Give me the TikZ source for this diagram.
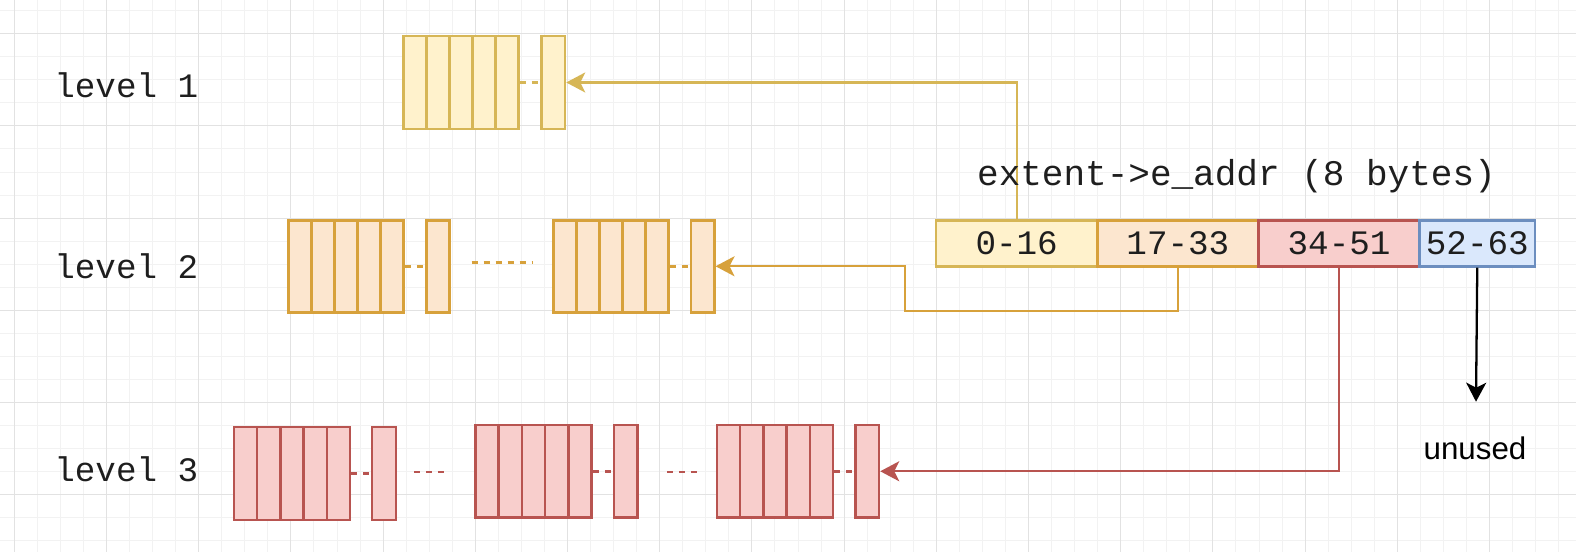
\documentclass[tikz,border=0pt]{standalone}
\usepackage{fontspec}
\setmainfont{Liberation Serif}
\newfontfamily\monof{Liberation Mono}
\newfontfamily\sansf{Liberation Sans}
\usetikzlibrary{arrows.meta}
\definecolor{yfill}{HTML}{FFF2CC}
\definecolor{ystroke}{HTML}{D6B656}
\definecolor{ofill}{HTML}{FCE6CF}
\definecolor{ostroke}{HTML}{D7A13B}
\definecolor{rfill}{HTML}{F8CECC}
\definecolor{rstroke}{HTML}{B85450}
\definecolor{bfill}{HTML}{DAE8FC}
\definecolor{bstroke}{HTML}{6C8EBF}
\definecolor{gridminor}{HTML}{F2F2F2}
\definecolor{gridmajor}{HTML}{E2E2E2}
\definecolor{txt}{HTML}{1E1E1E}
\newlength\pxl
\setlength\pxl{0.02cm}
\newcommand\cellrow[6]{%
  \foreach \i in {0,...,4} {%
    \node[#6, minimum width=#4\pxl, minimum height=#5\pxl, anchor=north west] (#1\i) at ({#2+#4*\i}, #3) {};
  }%
}
\tikzset{
  ycell/.style={draw=ystroke, fill=yfill, line width=1.45pt, inner sep=0pt, rectangle},
  ocell/.style={draw=ostroke, fill=ofill, line width=1.45pt, inner sep=0pt, rectangle},
  rcell/.style={draw=rstroke, fill=rfill, line width=1.45pt, inner sep=0pt, rectangle},
  addrbox/.style={line width=1.45pt, inner sep=0pt, rectangle, minimum height=46\pxl, anchor=north west, font=\monof\fontsize{19.5}{22}\selectfont, text=txt},
  dashlink/.style={line width=1.45pt, dash pattern=on 0.12cm off 0.12cm},
  link/.style={line width=1.3pt, -{Stealth[length=0.38cm, width=0.4cm, inset=0.1cm]}},
  lvl/.style={anchor=base west, font=\monof\fontsize{19.5}{22}\selectfont, text=txt, inner sep=0pt},
  minorline/.style={draw=gridminor, line width=0.55pt},
  majorline/.style={draw=gridmajor, line width=0.6pt},
}
\begin{document}
\begin{tikzpicture}[x=0.02cm, y=-0.02cm]
\fill[white] (0,0) rectangle (1576,552);
\useasboundingbox (0,0) rectangle (1576,552);
% grid
\foreach \k in {0,...,68} {
  \pgfmathsetmacro\xx{14.3+23.05*\k}
  \draw[minorline] (\xx,0) -- (\xx,552);
}
\foreach \k in {0,...,23} {
  \pgfmathsetmacro\yy{10.65+23.05*\k}
  \draw[minorline] (0,\yy) -- (1576,\yy);
}
\foreach \k in {0,...,17} {
  \pgfmathsetmacro\xx{14.3+92.2*\k}
  \draw[majorline] (\xx,0) -- (\xx,552);
}
\foreach \k in {0,...,5} {
  \pgfmathsetmacro\yy{33.7+92.2*\k}
  \draw[majorline] (0,\yy) -- (1576,\yy);
}
% labels
\node[lvl] (lab1) at (54,97) {level 1};
\node[lvl] (lab2) at (54,278) {level 2};
\node[lvl] (lab3) at (54,481) {level 3};
% level 1
\cellrow{la}{402.3}{34.7}{23}{93}{ycell}
\node[ycell, minimum width=23.4\pxl, minimum height=93\pxl, anchor=north west] (l1s) at (540.3,34.7) {};
\draw[dashlink, draw=ystroke] (la4.east) -- (l1s.west);
% level 2
\cellrow{lb}{287}{219}{23.06}{92}{ocell}
\node[ocell, minimum width=23.3\pxl, minimum height=92\pxl, anchor=north west] (l2s1) at (425,219) {};
\cellrow{lc}{552}{219}{23}{92}{ocell}
\node[ocell, minimum width=23.3\pxl, minimum height=92\pxl, anchor=north west] (l2s2) at (689.7,219) {};
\draw[dashlink, draw=ostroke] (lb4.east) -- (l2s1.west);
\draw[dashlink, draw=ostroke] (lc4.east) -- (l2s2.west);
\coordinate (d2a) at (471.7,262.3);
\coordinate (d2b) at (533.3,262.3);
\draw[dashlink, draw=ostroke] (d2a) -- (d2b);
% level 3
\cellrow{ld}{232.7}{425.7}{23.2}{93}{rcell}
\node[rcell, minimum width=24\pxl, minimum height=93\pxl, anchor=north west] (l3s1) at (370.7,425.7) {};
\cellrow{le}{474}{423.7}{23.26}{92.6}{rcell}
\node[rcell, minimum width=23.6\pxl, minimum height=92.6\pxl, anchor=north west] (l3s2) at (612.7,423.7) {};
\cellrow{lf}{715.7}{423.7}{23.2}{92.6}{rcell}
\node[rcell, minimum width=23.4\pxl, minimum height=92.6\pxl, anchor=north west] (l3s3) at (854.3,423.7) {};
\draw[dashlink, draw=rstroke] (ld4.east) -- (l3s1.west);
\draw[dashlink, draw=rstroke] (le4.east) -- (l3s2.west);
\draw[dashlink, draw=rstroke] (lf4.east) -- (l3s3.west);
\coordinate (d3a) at (414,472);
\coordinate (d3b) at (448.7,472);
\coordinate (d3c) at (667.3,472);
\coordinate (d3d) at (700.5,472);
\draw[dashlink, draw=rstroke] (d3a) -- (d3b);
\draw[dashlink, draw=rstroke] (d3c) -- (d3d);
% address
\node[addrbox, draw=ystroke, fill=yfill, minimum width=161.2\pxl] (a0) at (934.8,219) {0-16};
\node[addrbox, draw=ostroke, fill=ofill, minimum width=161.2\pxl] (a1) at (1096,219) {17-33};
\node[addrbox, draw=rstroke, fill=rfill, minimum width=161.2\pxl] (a2) at (1257.2,219) {34-51};
\node[addrbox, draw=bstroke, fill=bfill, minimum width=115.2\pxl] (a3) at (1418.4,219) {52-63};
% connectors
\draw[link, draw=ystroke] (a0.north) |- (l1s.east);
\coordinate (o1) at (905.3,310.7);
\draw[link, draw=ostroke] (a1.south) |- (o1) |- (l2s2.east);
\draw[link, draw=rstroke] (a2.south) |- (l3s3.east);
\coordinate (utip) at (1476,401.7);
\draw[link, draw=black] (a3.south) -- (utip);
\node[font=\monof\fontsize{20.5}{24}\selectfont, text=txt, inner sep=0pt] (title) at (1236.5,176) {extent->e\_addr (8 bytes)};
\node[font=\sansf\fontsize{17.8}{20}\selectfont, text=black, inner sep=0pt] (unused) at (1475,448) {unused};
\end{tikzpicture}
\end{document}
